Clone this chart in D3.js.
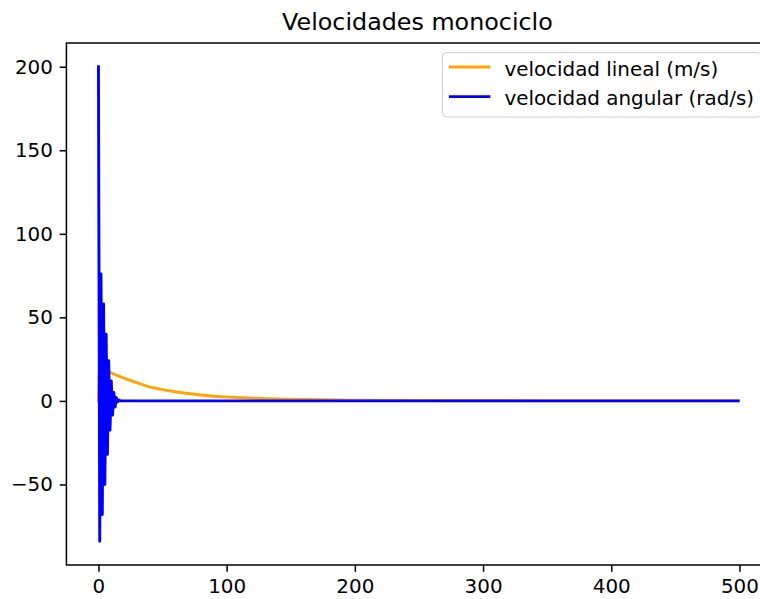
<!DOCTYPE html>
<html lang="es">
<head>
<meta charset="UTF-8">
<title>Velocidades monociclo</title>
<script src="https://d3js.org/d3.v7.min.js"></script>
<style>
  body { margin: 0; background: #fff; }
  svg { display: block; font-family: 'DejaVu Sans', sans-serif; }
</style>
</head>
<body>
<div id="chart"></div>
<script>
const linT = [0, 1, 5, 9, 15, 20, 30, 40, 50, 60, 70, 80, 90, 100, 120, 150, 175, 200, 250, 300, 400, 499];
const linV = [0, 20, 18.5, 17.2, 15.1, 13.6, 10.9, 8.4, 6.8, 5.5, 4.4, 3.5, 2.8, 2.3, 1.6, 1.0, 0.7, 0.45, 0.2, 0.08, 0.01, 0];

// velocidad angular (rad/s), one sample per step while it oscillates, then flat
const angT = [0, 1, 2, 3, 4, 5, 6, 7, 8, 9, 10, 11, 12, 13, 14, 15, 16, 17, 499];
const angV = [200, -84, 76, -68, 58, -50, 40, -32, 24, -17.5, 12, -8.5, 5, -3.6, 2, -0.6, 0.5, 0, 0];

const xTicks = [0, 100, 200, 300, 400, 500];
const yTicks = [-50, 0, 50, 100, 150, 200];
const yTickLabels = ["\u221250", "0", "50", "100", "150", "200"];

const seriesNames = ["velocidad lineal (m/s)", "velocidad angular (rad/s)"];
const seriesColors = ["orange", "blue"];

const width = 760, height = 599;
const plot = { left: 66.4, right: 771.5, top: 43, bottom: 565 };
const fontSize = 19.9, titleSize = 23.8;
const tickLen = 6.75, lineW = 2.9, frameW = 1.5;

// 5% margins like matplotlib
const xMin = 0, xMax = 500;
const yMin = d3.min(angV), yMax = d3.max(angV);
const xPad = (xMax - xMin) * 0.05, yPad = (yMax - yMin) * 0.05;

const x = d3.scaleLinear().domain([xMin - xPad, xMax + xPad]).range([plot.left, plot.right]);
const y = d3.scaleLinear().domain([yMin - yPad, yMax + yPad]).range([plot.bottom, plot.top]);

const svg = d3.select("#chart").append("svg")
    .attr("width", width)
    .attr("height", height)
    .style("overflow", "hidden");

svg.append("rect").attr("width", width).attr("height", height).attr("fill", "#fff");

const lineSmooth = d3.line().curve(d3.curveMonotoneX).x(d => x(d[0])).y(d => y(d[1]));
const lineStraight = d3.line().x(d => x(d[0])).y(d => y(d[1]));

const series = [
    { pts: d3.zip(linT, linV), gen: lineSmooth },
    { pts: d3.zip(angT, angV), gen: lineStraight }
];

series.forEach((s, i) => {
    svg.append("path")
        .datum(s.pts)
        .attr("d", s.gen)
        .attr("fill", "none")
        .attr("stroke", seriesColors[i])
        .attr("stroke-width", lineW)
        .attr("stroke-linejoin", "round")
        .attr("stroke-linecap", "square");
});

// axes
const xAxis = svg.append("g")
    .attr("transform", `translate(0,${plot.bottom})`)
    .call(d3.axisBottom(x).tickValues(xTicks).tickSize(tickLen).tickPadding(tickLen).tickFormat(d => String(d)));
const yAxis = svg.append("g")
    .attr("transform", `translate(${plot.left},0)`)
    .call(d3.axisLeft(y).tickValues(yTicks).tickSize(tickLen).tickPadding(tickLen)
        .tickFormat((d, i) => yTickLabels[i]));

[xAxis, yAxis].forEach(g => {
    g.select(".domain").remove();
    g.attr("font-family", "'DejaVu Sans', sans-serif").attr("font-size", fontSize);
    g.selectAll(".tick line").attr("stroke", "#000").attr("stroke-width", frameW);
    g.selectAll(".tick text").attr("fill", "#000");
});

// frame
svg.append("rect")
    .attr("x", plot.left)
    .attr("y", plot.top)
    .attr("width", plot.right - plot.left)
    .attr("height", plot.bottom - plot.top)
    .attr("fill", "none")
    .attr("stroke", "#000")
    .attr("stroke-width", frameW);

// title
svg.append("text")
    .attr("x", (plot.left + plot.right) / 2 - 1.5)
    .attr("y", 30)
    .attr("text-anchor", "middle")
    .attr("font-size", titleSize)
    .attr("fill", "#000")
    .text("Velocidades monociclo");

// legend
const pad = 0.4 * 19.3, handleLen = 2 * 19.3, handleGap = 0.8 * 19.3;
const rowStep = 29.6, axPad = 0.5 * 19.3;
const legend = svg.append("g");
const box = legend.append("rect")
    .attr("rx", 4).attr("ry", 4)
    .attr("fill", "#fff")
    .attr("fill-opacity", 0.8)
    .attr("stroke", "#cccccc")
    .attr("stroke-width", 1);

const labels = seriesNames.map((name, i) => legend.append("text")
    .attr("font-size", fontSize)
    .attr("fill", "#000")
    .text(name));
const textW = d3.max(labels, t => t.node().getComputedTextLength());
const boxW = pad + handleLen + handleGap + textW + pad;
const boxH = 64.4;
const boxX = plot.right - axPad - boxW;
const boxY = plot.top + axPad;
box.attr("x", boxX).attr("y", boxY).attr("width", boxW).attr("height", boxH);

seriesNames.forEach((name, i) => {
    const ry = boxY + 14.4 + i * rowStep;
    legend.append("line")
        .attr("x1", boxX + pad).attr("x2", boxX + pad + handleLen)
        .attr("y1", ry).attr("y2", ry)
        .attr("stroke", seriesColors[i])
        .attr("stroke-width", lineW)
        .attr("stroke-linecap", "square");
    labels[i]
        .attr("x", boxX + pad + handleLen + handleGap)
        .attr("y", ry + 8.7);
});
</script>
</body>
</html>
